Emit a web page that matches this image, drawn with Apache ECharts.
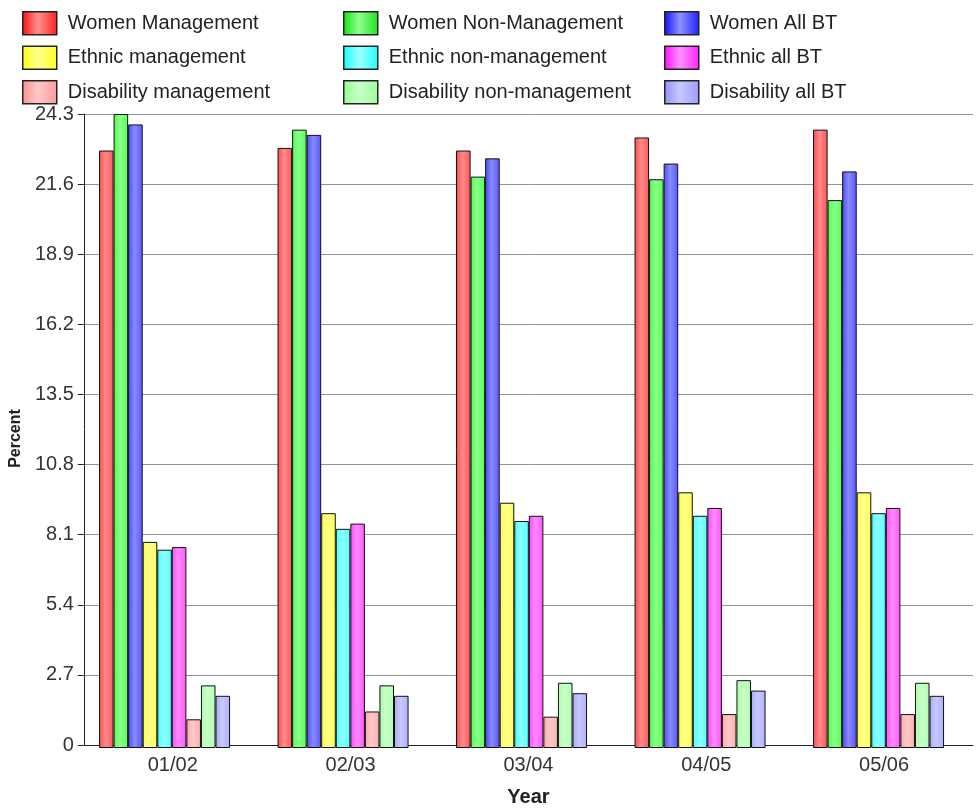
<!DOCTYPE html>
<html>
<head>
<meta charset="utf-8">
<script src="https://cdn.jsdelivr.net/npm/echarts@6/dist/echarts.min.js"></script>
<style>
  html, body { margin: 0; padding: 0; background: #ffffff; }
  #chart { width: 977px; height: 812px; }
</style>
</head>
<body>
<div id="chart"></div>
<script>
// Workforce diversity shares by financial year (percent)
const categories = ['01/02', '02/03', '03/04', '04/05', '05/06'];

const womenManagement         = [22.9, 23.0, 22.9, 23.4, 23.7];
const womenNonManagement      = [24.3, 23.7, 21.9, 21.8, 21.0];
const womenAllBT              = [23.9, 23.5, 22.6, 22.4, 22.1];
const ethnicManagement        = [7.9, 9.0, 9.4, 9.8, 9.8];
const ethnicNonManagement     = [7.6, 8.4, 8.7, 8.9, 9.0];
const ethnicAllBT             = [7.7, 8.6, 8.9, 9.2, 9.2];
const disabilityManagement    = [1.1, 1.4, 1.2, 1.3, 1.3];
const disabilityNonManagement = [2.4, 2.4, 2.5, 2.6, 2.5];
const disabilityAllBT         = [2.0, 2.0, 2.1, 2.2, 2.0];

const yTicks = { min: 0, max: 24.3, step: 2.7 };

const seriesDefs = [
  { name: 'Women Management',          data: womenManagement,         base: ['#ff4a4a', '#ff8a8a', '#ff5656'], icon: ['#ff1010', '#ff9090', '#ff2020'] },
  { name: 'Women Non-Management',      data: womenNonManagement,      base: ['#4aff4a', '#8aff8a', '#56ff56'], icon: ['#10e010', '#90ff90', '#20e020'] },
  { name: 'Women All BT',              data: womenAllBT,              base: ['#4a4aff', '#8a8aff', '#5656ff'], icon: ['#1010ff', '#9090ff', '#2020ff'] },
  { name: 'Ethnic management',         data: ethnicManagement,        base: ['#ffff4a', '#ffff8a', '#ffff56'], icon: ['#ffff10', '#ffff90', '#ffff20'] },
  { name: 'Ethnic non-management',     data: ethnicNonManagement,     base: ['#4affff', '#8affff', '#56ffff'], icon: ['#10ffff', '#a0ffff', '#20ffff'] },
  { name: 'Ethnic all BT',             data: ethnicAllBT,             base: ['#ff4aff', '#ff8aff', '#ff56ff'], icon: ['#ff10ff', '#ff90ff', '#ff20ff'] },
  { name: 'Disability management',     data: disabilityManagement,    base: ['#ffa8a8', '#ffc8c8', '#ffb0b0'], icon: ['#ff9090', '#ffc8c8', '#ff9a9a'] },
  { name: 'Disability non-management', data: disabilityNonManagement, base: ['#a8ffa8', '#c8ffc8', '#b0ffb0'], icon: ['#90ff90', '#c8ffc8', '#9aff9a'] },
  { name: 'Disability all BT',         data: disabilityAllBT,         base: ['#a8a8ff', '#c8c8ff', '#b0b0ff'], icon: ['#9090ff', '#c8c8ff', '#9a9aff'] }
];

function hGrad(c) {
  return new echarts.graphic.LinearGradient(0, 0, 1, 0, [
    { offset: 0, color: c[0] },
    { offset: 0.45, color: c[1] },
    { offset: 1, color: c[2] }
  ]);
}

const FONT = '"Liberation Sans", Arial, Helvetica, sans-serif';

function legendColumn(left, names) {
  return {
    orient: 'vertical',
    left: left,
    top: 11,
    padding: 0,
    itemWidth: 34,
    itemHeight: 23,
    itemGap: 10,
    icon: 'rect',
    selectedMode: false,
    textStyle: { fontFamily: FONT, fontSize: 20, color: '#222', padding: [0, 0, 0, 6] },
    data: names.map(n => {
      const d = seriesDefs.find(s => s.name === n);
      return { name: n, itemStyle: { color: hGrad(d.icon), borderColor: '#222', borderWidth: 1.5 } };
    })
  };
}

const chart = echarts.init(document.getElementById('chart'), null, { renderer: 'canvas' });

chart.setOption({
  animation: false,
  backgroundColor: '#ffffff',
  legend: [
    legendColumn(22, ['Women Management', 'Ethnic management', 'Disability management']),
    legendColumn(343, ['Women Non-Management', 'Ethnic non-management', 'Disability non-management']),
    legendColumn(664, ['Women All BT', 'Ethnic all BT', 'Disability all BT'])
  ],
  // grid 0 carries the visible axes; grid 1 carries the bars, its bands sit a few px left of the ticks
  grid: [
    { left: 81, right: 4, top: 114, bottom: 64, containLabel: false },
    { left: 75.3, right: 9.2, top: 114, bottom: 64, containLabel: false }
  ],
  xAxis: [
    {
      type: 'category',
      gridIndex: 0,
      data: categories,
      name: 'Year',
      nameLocation: 'middle',
      nameGap: 42,
      nameTextStyle: { fontFamily: FONT, fontSize: 20, fontWeight: 'bold', color: '#222' },
      axisLine: { lineStyle: { color: '#222', width: 1 } },
      axisTick: { alignWithLabel: true, length: 4, lineStyle: { color: '#222' } },
      axisLabel: { fontFamily: FONT, fontSize: 20, color: '#333', margin: 10 },
      splitLine: { show: false }
    },
    {
      type: 'category',
      gridIndex: 1,
      data: categories,
      show: false
    }
  ],
  yAxis: [
    {
      type: 'value',
      gridIndex: 0,
      min: yTicks.min,
      max: yTicks.max,
      interval: yTicks.step,
      name: 'Percent',
      nameLocation: 'middle',
      nameGap: 58,
      nameTextStyle: { fontFamily: FONT, fontSize: 16, fontWeight: 'bold', color: '#222', padding: [0, 18, 0, 0] },
      axisLine: { show: true, lineStyle: { color: '#222', width: 1 } },
      axisTick: { show: true, length: 6, lineStyle: { color: '#222' } },
      axisLabel: {
        fontFamily: FONT, fontSize: 20, color: '#333', margin: 10,
        formatter: v => (Math.abs(v) < 1e-9 ? '0' : v.toFixed(1))
      },
      splitLine: { show: true, lineStyle: { color: '#939393', width: 1 } }
    },
    {
      type: 'value',
      gridIndex: 1,
      min: yTicks.min,
      max: yTicks.max,
      interval: yTicks.step,
      show: false,
      splitLine: { show: false }
    }
  ],
  series: seriesDefs.map(s => ({
    name: s.name,
    type: 'bar',
    xAxisIndex: 1,
    yAxisIndex: 1,
    data: s.data,
    barGap: '0%',
    barCategoryGap: '26.6%',
    itemStyle: { color: hGrad(s.base), borderColor: '#111', borderWidth: 1 },
    emphasis: { disabled: true }
  }))
});
</script>
</body>
</html>
